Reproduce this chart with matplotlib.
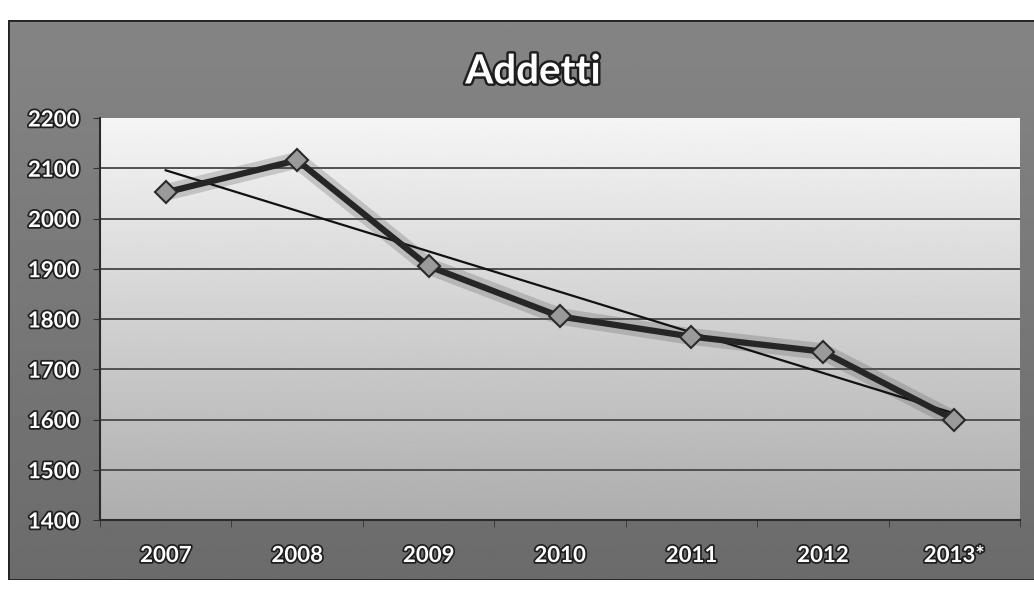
import matplotlib.pyplot as plt
import matplotlib.patheffects as pe
import numpy as np

# Data
years = ['2007', '2008', '2009', '2010', '2011', '2012', '2013*']
addetti = [2052, 2116, 1905, 1805, 1765, 1735, 1600]
y_ticks = [1400, 1500, 1600, 1700, 1800, 1900, 2000, 2100, 2200]

W, H = 1034, 593
fig = plt.figure(figsize=(W / 100, H / 100), dpi=100, facecolor='white')

# Outer dark grey chart area
bg = fig.add_axes([8 / W, 13 / H, 1 - 8 / W, (580 - 20) / H])
bg.axis('off')
frame_grad = np.linspace(0.52, 0.42, 256).reshape(-1, 1)
bg.imshow(frame_grad, cmap='gray', vmin=0, vmax=1, aspect='auto',
          extent=[0, 1, 0, 1])
bg.plot([0, 1], [1, 1], color='#222222', lw=2, transform=bg.transAxes)
bg.plot([0, 0], [0, 1], color='#222222', lw=2, transform=bg.transAxes)
bg.plot([0, 1], [0, 0], color='#222222', lw=2, transform=bg.transAxes)
bg.set_xlim(0, 1)
bg.set_ylim(0, 1)

# Plot area
ax = fig.add_axes([100 / W, (H - 520) / H, (1020 - 100) / W, (520 - 118) / H])
x = np.arange(len(years))
plot_grad = np.linspace(0.96, 0.68, 256).reshape(-1, 1)
ax.imshow(plot_grad, cmap='gray', vmin=0, vmax=1, aspect='auto',
          extent=[-0.5, len(years) - 0.5, 1400, 2200], zorder=0)

for yv in y_ticks[1:-1]:
    ax.axhline(yv, color='#505050', lw=1.4, zorder=1)

# Linear trend line
coef = np.polyfit(x, addetti, 1)
ax.plot(x, np.polyval(coef, x), color='#111111', lw=1.6, zorder=3)

# Main series with soft shadow
ax.plot(x, addetti, color='#555555', lw=12, alpha=0.25, zorder=2,
        solid_capstyle='round', solid_joinstyle='round')
ax.plot(x, addetti, color='#262626', lw=4.5, zorder=4,
        solid_joinstyle='round')
ax.plot(x, addetti, linestyle='none', marker='D', markersize=11,
        markerfacecolor='#9a9a9a', markeredgecolor='#2a2a2a',
        markeredgewidth=1.5, zorder=5)

ax.set_xlim(-0.5, len(years) - 0.5)
ax.set_ylim(1400, 2200)

outline = [pe.withStroke(linewidth=2.5, foreground='#1e1e1e')]
ax.set_yticks(y_ticks)
ax.set_yticklabels([str(v) for v in y_ticks], fontsize=16, fontweight='bold',
                   family='Lato', color='white', path_effects=outline)
ax.set_xticks(x)
ax.set_xticklabels(years, fontsize=16, fontweight='bold', family='Lato',
                   color='white', path_effects=outline)
ax.set_xticks(np.arange(len(years) + 1) - 0.5, minor=True)
ax.tick_params(axis='x', which='major', length=0, pad=18)
ax.tick_params(axis='x', which='minor', length=5, color='#333333',
               direction='out')
ax.tick_params(axis='y', length=5, color='#333333', pad=10)

for side in ['top', 'right']:
    ax.spines[side].set_visible(False)
for side in ['left', 'bottom']:
    ax.spines[side].set_color('#2a2a2a')
    ax.spines[side].set_linewidth(1.5)

fig.text(533 / W, 1 - 72 / H, 'Addetti', ha='center', va='center',
         fontsize=29, fontweight='bold', family='Lato', color='white',
         path_effects=[pe.withStroke(linewidth=3.5, foreground='#1e1e1e')])

fig.savefig('out.png', dpi=100, facecolor='white')
